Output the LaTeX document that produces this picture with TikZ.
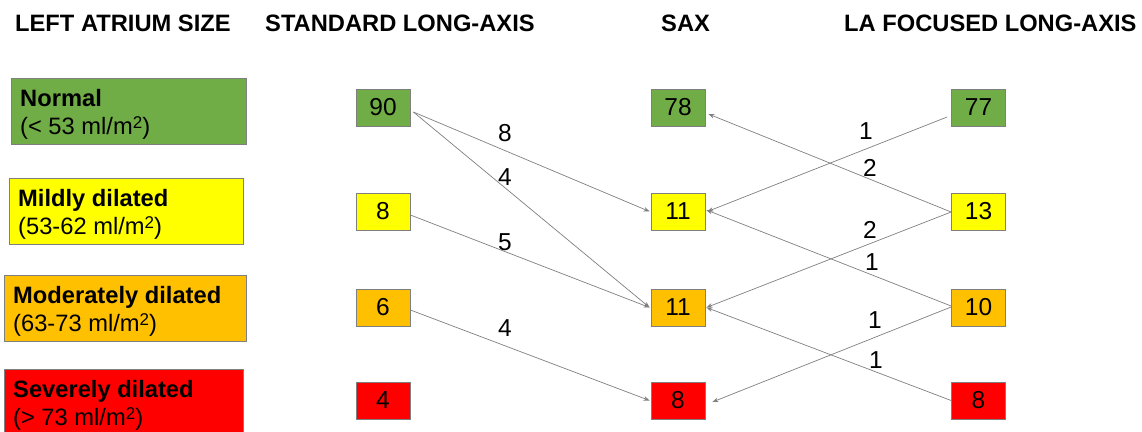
\documentclass[tikz,border=0pt]{standalone}
\usepackage{fontspec}
\setmainfont{Liberation Sans}
\usetikzlibrary{arrows.meta}
\definecolor{lagreen}{HTML}{70AD47}
\definecolor{layellow}{HTML}{FFFF00}
\definecolor{laorange}{HTML}{FFC000}
\definecolor{lared}{HTML}{FF0000}
\definecolor{edgegray}{HTML}{7F7F7F}
% small raised "2" for the unit ml/m2
\newcommand{\squnit}{\raisebox{5.5pt}{\fontsize{17}{19}\selectfont 2}}
\begin{document}
\begin{tikzpicture}[x=1pt,y=-1pt,
  header/.style={anchor=base west,inner sep=0pt,font=\fontsize{23.7}{27}\selectfont\bfseries},
  sizebox/.style={draw=edgegray,line width=0.8pt,anchor=north west,inner sep=0pt,minimum width=235pt,minimum height=66pt},
  sizetitle/.style={anchor=base west,inner sep=0pt,font=\fontsize{23.7}{27}\selectfont\bfseries},
  sizerange/.style={anchor=base west,inner sep=0pt,font=\fontsize{23.7}{27}\selectfont},
  countbox/.style={draw=edgegray,line width=0.8pt,inner sep=0pt,minimum width=54pt,minimum height=37pt,font=\fontsize{24.5}{27}\selectfont},
  flow/.style={draw=edgegray,line width=0.7pt,-{Stealth[length=6pt,width=4.5pt]}},
  flowlabel/.style={inner sep=0pt,font=\fontsize{24.5}{27}\selectfont}]
\useasboundingbox (0,0) rectangle (1142,431);
\clip (0,0) rectangle (1142,431);

% column headers
\node[header] (h1) at (15,31) {LEFT ATRIUM SIZE};
\node[header] (h2) at (265,31) {STANDARD LONG-AXIS};
\node[header] (h3) at (661,31) {SAX};
\node[header] (h4) at (844,31) {LA FOCUSED LONG-AXIS};

% size categories
\node[sizebox,fill=lagreen,minimum width=235pt] (s1) at (11,78) {};
\node[sizetitle] (s1a) at (20,106) {Normal};
\node[sizerange] (s1b) at (20,134) {(< 53 ml/m\squnit)};

\node[sizebox,fill=layellow,minimum width=234pt] (s2) at (9,178) {};
\node[sizetitle] (s2a) at (18,206) {Mildly dilated};
\node[sizerange] (s2b) at (18,234) {(53-62 ml/m\squnit)};

\node[sizebox,fill=laorange,minimum width=242pt] (s3) at (4,275) {};
\node[sizetitle] (s3a) at (13,303) {Moderately dilated};
\node[sizerange] (s3b) at (13,331) {(63-73 ml/m\squnit)};

\node[sizebox,fill=lared,minimum width=239pt] (s4) at (4,369) {};
\node[sizetitle] (s4a) at (13,397) {Severely dilated};
\node[sizerange] (s4b) at (13,425) {(> 73 ml/m\squnit)};

% standard long-axis counts
\node[countbox,fill=lagreen] (l1) at (383,107.5) {90};
\node[countbox,fill=layellow] (l2) at (383,211.5) {8};
\node[countbox,fill=laorange] (l3) at (383,307.5) {6};
\node[countbox,fill=lared] (l4) at (383,400.5) {4};

% SAX counts
\node[countbox,fill=lagreen] (m1) at (678,107.5) {78};
\node[countbox,fill=layellow] (m2) at (678,211.5) {11};
\node[countbox,fill=laorange] (m3) at (678,307.5) {11};
\node[countbox,fill=lared] (m4) at (678,400.5) {8};

% LA focused long-axis counts
\node[countbox,fill=lagreen] (r1) at (978.5,107.5) {77};
\node[countbox,fill=layellow] (r2) at (978.5,211.5) {13};
\node[countbox,fill=laorange] (r3) at (978.5,307.5) {10};
\node[countbox,fill=lared] (r4) at (978.5,400.5) {8};

% reclassification from standard long-axis to SAX
\draw[flow] ([xshift=3pt,yshift=-4.5pt]l1.east) -- ([xshift=-1pt]m2.west);
\draw[flow] ([xshift=3pt,yshift=-4.5pt]l1.east) -- ([xshift=-1pt]m3.west);
\draw[flow] ([yshift=-3.5pt]l2.east) -- ([xshift=-1pt]m3.west);
\draw[flow] ([yshift=-2.5pt]l3.east) -- ([xshift=-1pt]m4.west);

% reclassification from LA focused long-axis to SAX
\draw[flow] ([xshift=-4pt,yshift=-9.5pt]r1.west) -- ([xshift=2pt]m2.east);
\draw[flow] ([yshift=-0.5pt]r2.west) -- ([xshift=3pt,yshift=-6.5pt]m1.east);
\draw[flow] ([yshift=-0.5pt]r2.west) -- ([xshift=1pt]m3.east);
\draw[flow] ([yshift=1.5pt]r3.west) -- ([xshift=1pt,yshift=1.5pt]m2.east);
\draw[flow] ([yshift=0.5pt]r3.west) -- ([xshift=7pt,yshift=-1.5pt]m4.east);
\draw[flow] (r4.west) -- ([xshift=1pt]m3.east);

% transition counts
\node[flowlabel] (t1) at (505,133) {8};
\node[flowlabel] (t2) at (505,177) {4};
\node[flowlabel] (t3) at (505,242) {5};
\node[flowlabel] (t4) at (505,328) {4};
\node[flowlabel] (t5) at (866,131) {1};
\node[flowlabel] (t6) at (870,168) {2};
\node[flowlabel] (t7) at (870,230) {2};
\node[flowlabel] (t8) at (872,262) {1};
\node[flowlabel] (t9) at (875,320) {1};
\node[flowlabel] (t10) at (876,360) {1};
\end{tikzpicture}
\end{document}
